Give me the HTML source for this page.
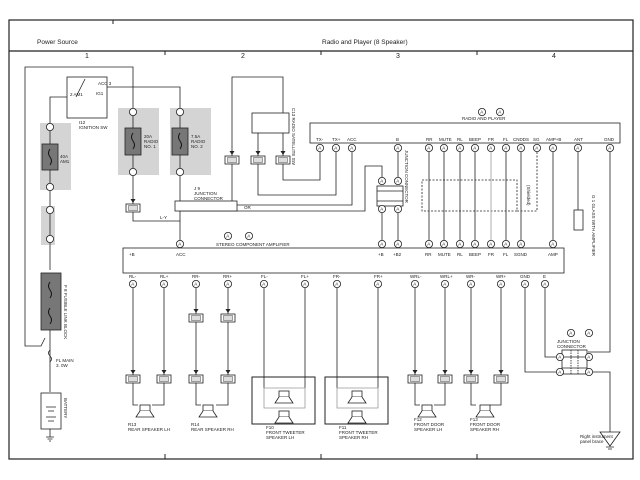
<!DOCTYPE html>
<html><head><meta charset="utf-8"><style>
html,body{margin:0;padding:0;background:#fff;}
svg{display:block;font-family:"Liberation Sans",sans-serif;}
text{fill:#222;}
.s{font-size:4.5px;}
.t{font-size:7px;}
</style></head><body>
<svg width="640" height="480" viewBox="0 0 640 480" xmlns="http://www.w3.org/2000/svg">
<defs>
<g id="cA"><circle r="3.6" fill="#fff" stroke="#222" stroke-width="0.8"/><text x="-1.8" y="1.7" style="font-size:4.5px">A</text></g>
<g id="spk"><rect x="-5" y="-7" width="10" height="6" fill="#fff" stroke="#222" stroke-width="0.8"/><path d="M-5,-1 L-9,5 L9,5 L5,-1" fill="#fff" stroke="#222" stroke-width="0.8"/></g>
<g id="id1"><rect x="-7" y="-4" width="14" height="8" fill="#fff" stroke="#222" stroke-width="0.8"/><rect x="-4.5" y="-2.5" width="9" height="5" fill="#ddd" stroke="#222" stroke-width="0.4"/><path d="M-2.5,-9 L2.5,-9 L0,-5 Z" fill="#222"/></g>
</defs>
<g fill="none" stroke="#222">
<rect x="9" y="20" width="624" height="439" stroke-width="1.2"/>
<line x1="9" y1="51" x2="633" y2="51" stroke-width="1.2"/>
<line x1="113" y1="20" x2="113" y2="24"/>
<line x1="165" y1="51" x2="165" y2="55"/><line x1="321" y1="51" x2="321" y2="55"/><line x1="477" y1="51" x2="477" y2="55"/>
<line x1="165" y1="459" x2="165" y2="454"/><line x1="321" y1="459" x2="321" y2="454"/><line x1="477" y1="459" x2="477" y2="454"/>
</g>
<text x="37" y="44" class="t" style="font-size:6.5px">Power Source</text>
<text x="322" y="44" class="t" style="font-size:6.5px">Radio and Player (8 Speaker)</text>
<text x="85" y="58" class="t">1</text><text x="241" y="58" class="t">2</text><text x="396" y="58" class="t">3</text><text x="552" y="58" class="t">4</text>

<g fill="#d4d4d4" stroke="none">
<rect x="40" y="123" width="31" height="67"/>
<rect x="118" y="108" width="41" height="67"/>
<rect x="170" y="108" width="41" height="67"/>
<rect x="41" y="206" width="14" height="39"/>
</g>
<g fill="none" stroke="#222" stroke-width="0.8">
<rect x="67" y="77" width="40" height="41"/>
<path d="M25,340 L25,67 L133,67 L133,108"/>
<path d="M50,123 L50,97 L67,97"/>
<path d="M107,87 L180,87 L180,108"/>
<path d="M76,97 L85,79"/>
<path d="M50,123 L50,270"/>
<path d="M133,115 L133,208 M133,212 L133,221 L180,221"/>
<path d="M180,115 L180,243"/>
<path d="M50,330 L50,392"/>
<path d="M25,340 L25,346 L41,346 L45,338"/>
<path d="M232,160 L232,77 L283,77 L283,113"/>
<path d="M258,133 L258,160 M283,133 L283,160"/>
<path d="M232,164 L232,207"/>
<path d="M283,164 L283,180 L320,180 L320,152"/>
<path d="M258,164 L258,195 L336,195 L336,152"/>
<path d="M237,205 L352,205 L352,152"/>
<path d="M180,211 L365,211 L365,166 L382,166 L382,177"/>
<path d="M398,152 L398,177"/>
<path d="M382,213 L382,243 M398,213 L398,243"/>
<path d="M429,152 L429,243 M444,152 L444,243 M460,152 L460,243 M475,152 L475,243 M506,152 L506,243 M521,152 L521,243 M553,152 L553,243"/>
<path d="M578,152 L578,210"/>
<path d="M610,152 L610,352 L588,352"/>
<rect x="252" y="113" width="37" height="20" fill="#fff"/>
<rect x="175" y="201" width="62" height="10" fill="#fff"/>
<rect x="310" y="123" width="310" height="20" fill="#fff"/>
<rect x="123" y="248" width="441" height="25" fill="#fff"/>
<rect x="377" y="186" width="26" height="20" fill="#fff"/>
<path d="M377,191 L403,191 M377,201 L403,201"/>
<rect x="422" y="180" width="95" height="31" stroke-dasharray="2,1.5"/>
<path d="M537,152 L537,211 L517,211" stroke-dasharray="2,1.5"/>
<rect x="574" y="210" width="9" height="20" fill="#fff"/>
<path d="M133,288 L133,375 M164,288 L164,375 M196,288 L196,314 M196,322 L196,375 M228,288 L228,314 M228,322 L228,375"/>
<path d="M415,288 L415,375 M445,288 L445,375 M471,288 L471,375 M501,288 L501,375"/>
<path d="M264,288 L264,388 M305,288 L305,388 M337,288 L337,388 M378,288 L378,388"/>
<path d="M525,288 L525,372 L556,372 M545,288 L545,357 L556,357"/>
<path d="M592,372 L610,372 L610,437"/>
<path d="M133,383 L133,405 L138,405 M164,383 L164,405 L152,405"/>
<path d="M196,383 L196,405 L201,405 M228,383 L228,405 L216,405"/>
<path d="M415,383 L415,405 L420,405 M445,383 L445,405 L434,405"/>
<path d="M471,383 L471,405 L476,405 M501,383 L501,405 L490,405"/>
<rect x="252" y="377" width="63" height="47" stroke-width="1"/>
<rect x="325" y="377" width="63" height="47" stroke-width="1"/>
<path d="M264,388 L264,408 L305,408 L305,388 Z M337,388 L337,408 L378,408 L378,388 Z" stroke="#999"/>
<rect x="562" y="350" width="25" height="24" fill="#fff"/>
<path d="M562,357 L587,357 M562,368 L587,368"/>
<path d="M571,350 L571,374 M578,350 L578,374" stroke-dasharray="1.5,1"/>
<rect x="41" y="393" width="20" height="36" fill="#fff"/>
<path d="M46,407 L56,407 M48,411 L54,411 M46,417 L56,417 M48,421 L54,421"/>
<path d="M50,429 L50,437 M46,437 L54,437 M47.5,439 L52.5,439 M49,441 L51,441"/>
<path d="M610,437 L610,445 M606,447 L614,447 M608,449 L612,449"/>
<path d="M600,432 L620,432 L610,446 Z" fill="#fff"/>
<path d="M50,350 q-3,3 0,6 q3,3 0,6" />
</g>
<g fill="#777" stroke="#222" stroke-width="0.8">
<rect x="42" y="144" width="16" height="26"/>
<rect x="125" y="128" width="16" height="27"/>
<rect x="172" y="128" width="16" height="27"/>
<rect x="41" y="273" width="20" height="57"/>
</g>
<g fill="none" stroke="#111" stroke-width="1">
<path d="M50,149 q-3,4 0,8 q3,4 0,8"/><path d="M133,133 q-3,4 0,8 q3,4 0,8"/><path d="M180,133 q-3,4 0,8 q3,4 0,8"/>
<path d="M50,282 q-3,4 0,8 q3,4 0,8"/><path d="M50,308 q-3,4 0,8 q3,4 0,8"/>
</g>
<g fill="#fff" stroke="#222" stroke-width="0.8">
<circle cx="50" cy="127" r="3.6"/><circle cx="50" cy="187" r="3.6"/>
<circle cx="133" cy="112" r="3.6"/><circle cx="133" cy="172" r="3.6"/>
<circle cx="180" cy="112" r="3.6"/><circle cx="180" cy="172" r="3.6"/>
<circle cx="50" cy="210" r="3.6"/><circle cx="50" cy="239" r="3.6"/>
</g>
<use href="#id1" x="133" y="208"/>
<use href="#id1" x="232" y="160"/><use href="#id1" x="258" y="160"/><use href="#id1" x="283" y="160"/>
<use href="#id1" x="196" y="318"/><use href="#id1" x="228" y="318"/>
<use href="#id1" x="133" y="379"/><use href="#id1" x="164" y="379"/><use href="#id1" x="196" y="379"/><use href="#id1" x="228" y="379"/>
<use href="#id1" x="415" y="379"/><use href="#id1" x="445" y="379"/><use href="#id1" x="471" y="379"/><use href="#id1" x="501" y="379"/>
<use href="#cA" x="320" y="148"/><use href="#cA" x="336" y="148"/><use href="#cA" x="352" y="148"/><use href="#cA" x="398" y="148"/>
<use href="#cA" x="429" y="148"/><use href="#cA" x="444" y="148"/><use href="#cA" x="460" y="148"/><use href="#cA" x="475" y="148"/>
<use href="#cA" x="491" y="148"/><use href="#cA" x="506" y="148"/><use href="#cA" x="521" y="148"/><use href="#cA" x="537" y="148"/>
<use href="#cA" x="553" y="148"/><use href="#cA" x="578" y="148"/><use href="#cA" x="610" y="148"/>
<path d="M491,152 L491,243" stroke="#999" fill="none" stroke-width="0.8"/>
<use href="#cA" x="382" y="181"/><use href="#cA" x="398" y="181"/><use href="#cA" x="382" y="209"/><use href="#cA" x="398" y="209"/>
<use href="#cA" x="180" y="244"/><use href="#cA" x="382" y="244"/><use href="#cA" x="398" y="244"/>
<use href="#cA" x="429" y="244"/><use href="#cA" x="444" y="244"/><use href="#cA" x="460" y="244"/><use href="#cA" x="475" y="244"/>
<use href="#cA" x="491" y="244"/><use href="#cA" x="506" y="244"/><use href="#cA" x="521" y="244"/><use href="#cA" x="553" y="244"/>
<use href="#cA" x="133" y="284"/><use href="#cA" x="164" y="284"/><use href="#cA" x="196" y="284"/><use href="#cA" x="228" y="284"/>
<use href="#cA" x="264" y="284"/><use href="#cA" x="305" y="284"/><use href="#cA" x="337" y="284"/><use href="#cA" x="378" y="284"/>
<use href="#cA" x="415" y="284"/><use href="#cA" x="445" y="284"/><use href="#cA" x="471" y="284"/><use href="#cA" x="501" y="284"/>
<use href="#cA" x="525" y="284"/><use href="#cA" x="545" y="284"/>
<use href="#cA" x="560" y="357"/><use href="#cA" x="589" y="357"/><use href="#cA" x="560" y="372"/><use href="#cA" x="589" y="372"/>
<use href="#cA" x="228" y="236"/><use href="#cA" x="249" y="236"/>
<use href="#cA" x="482" y="112"/><use href="#cA" x="500" y="112"/>
<use href="#cA" x="571" y="333"/><use href="#cA" x="589" y="333"/>
<use href="#spk" x="145" y="412"/><use href="#spk" x="208" y="412"/>
<use href="#spk" x="284" y="398"/><use href="#spk" x="284" y="418"/>
<use href="#spk" x="357" y="398"/><use href="#spk" x="357" y="418"/>
<use href="#spk" x="427" y="412"/><use href="#spk" x="485" y="412"/>
<g class="s">
<text x="79" y="124">I12</text><text x="79" y="129">IGNITION SW</text>
<text x="98" y="85">ACC 3</text><text x="70" y="96">2 AM1</text><text x="96" y="95">IG1</text>
<text x="60" y="158">40A</text><text x="60" y="163">AM1</text>
<text x="144" y="138">20A</text><text x="144" y="143">RADIO</text><text x="144" y="148">NO. 1</text>
<text x="191" y="138">7.5A</text><text x="191" y="143">RADIO</text><text x="191" y="148">NO. 2</text>
<text x="194" y="190">J 9</text><text x="194" y="195">JUNCTION</text><text x="194" y="200">CONNECTOR</text>
<text x="160" y="219">L-Y</text><text x="244" y="209">OR</text>
<text x="216" y="246">STEREO COMPONENT AMPLIFIER</text>
<text x="462" y="120">RADIO AND PLAYER</text>
<text x="176" y="256">ACC</text><text x="129" y="256">+B</text><text x="378" y="256">+B</text><text x="393" y="256">+B2</text>
<text x="425" y="256">RR</text><text x="438" y="256">MUTE</text><text x="457" y="256">RL</text><text x="469" y="256">BEEP</text><text x="488" y="256">FR</text><text x="503" y="256">FL</text><text x="514" y="256">SGND</text><text x="548" y="256">AMP</text>
<text x="316" y="141">TX-</text><text x="332" y="141">TX+</text><text x="347" y="141">ACC</text><text x="396" y="141">B</text><text x="426" y="141">RR</text><text x="439" y="141">MUTE</text><text x="457" y="141">RL</text><text x="469" y="141">BEEP</text><text x="488" y="141">FR</text><text x="503" y="141">FL</text><text x="513" y="141">CNDDS</text><text x="533" y="141">SG</text><text x="546" y="141">AMP+B</text><text x="574" y="141">ANT</text><text x="604" y="141">GND</text>
<text x="129" y="278">RL-</text><text x="160" y="278">RL+</text><text x="192" y="278">RR-</text><text x="223" y="278">RR+</text><text x="261" y="278">FL-</text><text x="301" y="278">FL+</text><text x="333" y="278">FR-</text><text x="374" y="278">FR+</text><text x="410" y="278">WRL-</text><text x="440" y="278">WRL+</text><text x="466" y="278">WR-</text><text x="496" y="278">WR+</text><text x="520" y="278">GND</text><text x="543" y="278">E</text>
<text x="128" y="426">R13</text><text x="128" y="431">REAR SPEAKER LH</text>
<text x="191" y="426">R14</text><text x="191" y="431">REAR SPEAKER RH</text>
<text x="266" y="429">F10</text><text x="266" y="434">FRONT TWEETER</text><text x="266" y="439">SPEAKER LH</text>
<text x="339" y="429">F11</text><text x="339" y="434">FRONT TWEETER</text><text x="339" y="439">SPEAKER RH</text>
<text x="414" y="421">F12</text><text x="414" y="426">FRONT DOOR</text><text x="414" y="431">SPEAKER LH</text>
<text x="470" y="421">F13</text><text x="470" y="426">FRONT DOOR</text><text x="470" y="431">SPEAKER RH</text>
<text x="557" y="343">JUNCTION</text><text x="557" y="348">CONNECTOR</text>
<text x="580" y="438">Right instrument</text><text x="580" y="443">panel brace</text>
<text x="56" y="362">FL MAIN</text><text x="56" y="367">3. 0W</text>
</g>
<g class="s">
<text transform="translate(64,285) rotate(90)">F 8  FUSIBLE LINK BLOCK</text>
<text transform="translate(64,398) rotate(90)">BATTERY</text>
<text transform="translate(292,108) rotate(90)">C13 RADIO SATELLITE SW</text>
<text transform="translate(405,150) rotate(90)">JUNCTION CONNECTOR</text>
<text transform="translate(592,195) rotate(90)">G 1 GLASS WITH AMPLIFIER</text>
<text transform="translate(527,185) rotate(90)">(Shielded)</text>
</g>
</svg>
</body></html>
